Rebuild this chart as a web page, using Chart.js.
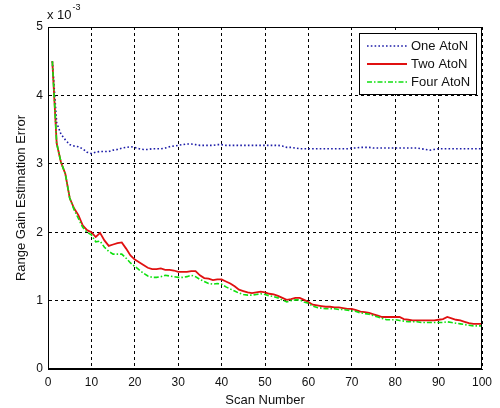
<!DOCTYPE html>
<html lang="en">
<head>
  <meta charset="UTF-8" />
  <title>Range Gain Estimation Error</title>
  <script src="https://cdn.jsdelivr.net/npm/chart.js"></script>
  <style>
    html, body { margin: 0; padding: 0; background: #fff; }
    #wrap { width: 500px; height: 408px; }
  </style>
</head>
<body>
  <div id="wrap"><canvas id="chartErro"></canvas></div>

  <script>
    // scan numbers (x)
    const scans = [
      1, 2, 3, 4, 5, 6, 7, 8, 9, 10, 11, 12, 13, 14, 15, 16, 17, 18, 19, 20,
      21, 22, 23, 24, 25, 26, 27, 28, 29, 30, 31, 32, 33, 34, 35, 36, 37, 38, 39, 40,
      41, 42, 43, 44, 45, 46, 47, 48, 49, 50, 51, 52, 53, 54, 55, 56, 57, 58, 59, 60,
      61, 62, 63, 64, 65, 66, 67, 68, 69, 70, 71, 72, 73, 74, 75, 76, 77, 78, 79, 80,
      81, 82, 83, 84, 85, 86, 87, 88, 89, 90, 91, 92, 93, 94, 95, 96, 97, 98, 99, 100
    ];

    // error values, in units of 1e-3
    const oneAton = [
      4.50, 3.60, 3.43, 3.35, 3.28, 3.26, 3.25, 3.22, 3.17, 3.15,
      3.17, 3.18, 3.18, 3.18, 3.20, 3.21, 3.23, 3.24, 3.25, 3.24,
      3.22, 3.21, 3.21, 3.22, 3.22, 3.22, 3.23, 3.25, 3.26, 3.27,
      3.28, 3.29, 3.29, 3.28, 3.27, 3.27, 3.27, 3.27, 3.28, 3.28,
      3.27, 3.27, 3.27, 3.27, 3.27, 3.27, 3.27, 3.27, 3.27, 3.27,
      3.27, 3.27, 3.27, 3.26, 3.24, 3.24, 3.23, 3.22, 3.22, 3.22,
      3.22, 3.22, 3.22, 3.22, 3.22, 3.22, 3.22, 3.22, 3.22, 3.23,
      3.23, 3.24, 3.24, 3.24, 3.23, 3.23, 3.23, 3.23, 3.23, 3.23,
      3.23, 3.23, 3.23, 3.23, 3.23, 3.22, 3.21, 3.20, 3.21, 3.22,
      3.22, 3.22, 3.22, 3.22, 3.22, 3.22, 3.22, 3.22, 3.22, 3.22
    ];
    const twoAton = [
      4.50, 3.30, 3.02, 2.85, 2.50, 2.35, 2.25, 2.10, 2.03, 2.00,
      1.93, 1.99, 1.88, 1.80, 1.82, 1.84, 1.85, 1.76, 1.66, 1.60,
      1.56, 1.52, 1.48, 1.46, 1.46, 1.47, 1.45, 1.45, 1.44, 1.42,
      1.42, 1.42, 1.43, 1.43, 1.37, 1.33, 1.32, 1.30, 1.31, 1.31,
      1.28, 1.25, 1.21, 1.16, 1.14, 1.12, 1.11, 1.12, 1.13, 1.12,
      1.10, 1.09, 1.07, 1.04, 1.01, 1.02, 1.04, 1.04, 1.01, 0.98,
      0.94, 0.93, 0.92, 0.91, 0.91, 0.90, 0.90, 0.89, 0.88, 0.88,
      0.86, 0.84, 0.83, 0.82, 0.80, 0.78, 0.76, 0.76, 0.76, 0.76,
      0.76, 0.73, 0.72, 0.71, 0.71, 0.71, 0.71, 0.71, 0.71, 0.72,
      0.73, 0.76, 0.74, 0.72, 0.71, 0.69, 0.67, 0.66, 0.66, 0.66
    ];
    const fourAton = [
      4.50, 3.30, 3.02, 2.85, 2.50, 2.33, 2.20, 2.07, 2.00, 1.96,
      1.86, 1.87, 1.78, 1.72, 1.68, 1.68, 1.68, 1.62, 1.55, 1.50,
      1.45, 1.40, 1.36, 1.34, 1.34, 1.35, 1.37, 1.36, 1.35, 1.34,
      1.34, 1.35, 1.37, 1.35, 1.31, 1.28, 1.25, 1.24, 1.25, 1.24,
      1.20, 1.17, 1.14, 1.11, 1.09, 1.08, 1.08, 1.09, 1.10, 1.09,
      1.07, 1.06, 1.04, 1.01, 0.98, 1.00, 1.01, 1.01, 0.98, 0.96,
      0.92, 0.90, 0.89, 0.88, 0.88, 0.88, 0.87, 0.87, 0.86, 0.85,
      0.84, 0.82, 0.81, 0.80, 0.78, 0.76, 0.74, 0.72, 0.72, 0.72,
      0.71, 0.70, 0.69, 0.69, 0.69, 0.68, 0.68, 0.68, 0.68, 0.68,
      0.68, 0.69, 0.68, 0.67, 0.66, 0.65, 0.64, 0.63, 0.63, 0.63
    ];

    const xTicks = [0, 10, 20, 30, 40, 50, 60, 70, 80, 90, 100];
    const yTicks = [0, 1, 2, 3, 4, 5];

    const fonte = '"Liberation Sans", Arial, sans-serif';

    function pontos(vals) {
      return scans.map((s, i) => ({ x: s, y: vals[i] }));
    }

    // box round the plot, the x 10^-3 note and the legend inside the axes
    const moldura = {
      id: 'moldura',
      afterDraw(chart) {
        const { ctx, chartArea: a } = chart;
        ctx.save();
        ctx.setLineDash([]);
        ctx.strokeStyle = '#000';
        ctx.lineWidth = 1;
        ctx.strokeRect(Math.round(a.left) + 0.5, Math.round(a.top) + 0.5,
          Math.round(a.right - a.left) - 1, Math.round(a.bottom - a.top) - 1);

        ctx.fillStyle = '#111';
        ctx.textBaseline = 'middle';
        ctx.textAlign = 'left';
        ctx.font = '13px ' + fonte;
        ctx.fillText('x 10', a.left - 1, 15);
        const w = ctx.measureText('x 10').width;
        ctx.font = '9px ' + fonte;
        ctx.fillText('-3', a.left - 1 + w + 1, 8);

        // legend
        const bx = a.right - 123, by = a.top + 6, bw = 117, bh = 61;
        ctx.fillStyle = '#fff';
        ctx.fillRect(bx, by, bw, bh);
        ctx.strokeStyle = '#000';
        ctx.strokeRect(bx + 0.5, by + 0.5, bw, bh);
        ctx.font = '13px ' + fonte;
        chart.data.datasets.forEach((ds, i) => {
          const y = by + 13 + i * 18;
          ctx.beginPath();
          ctx.strokeStyle = ds.borderColor;
          ctx.lineWidth = ds.borderWidth;
          ctx.setLineDash(ds.borderDash || []);
          ctx.moveTo(bx + 8, y);
          ctx.lineTo(bx + 48, y);
          ctx.stroke();
          ctx.setLineDash([]);
          ctx.fillStyle = '#111';
          ctx.fillText(ds.label, bx + 52, y);
        });
        ctx.restore();
      }
    };

    new Chart(document.getElementById('chartErro'), {
      type: 'line',
      data: {
        datasets: [
          {
            label: 'One AtoN',
            data: pontos(oneAton),
            borderColor: '#1c1ca8',
            borderWidth: 1.6,
            borderDash: [1.6, 2.2],
            order: 2
          },
          {
            label: 'Two AtoN',
            data: pontos(twoAton),
            borderColor: '#e01010',
            borderWidth: 1.8,
            order: 1
          },
          {
            label: 'Four AtoN',
            data: pontos(fourAton),
            borderColor: '#10e010',
            borderWidth: 1.6,
            borderDash: [5, 2, 1.5, 2],
            order: 0
          }
        ]
      },
      options: {
        responsive: true,
        maintainAspectRatio: false,
        animation: false,
        layout: { padding: { left: 0, right: 18, top: 27, bottom: 0 } },
        elements: { point: { radius: 0 }, line: { tension: 0 } },
        plugins: { legend: { display: false }, tooltip: { enabled: false } },
        scales: {
          x: {
            type: 'linear',
            min: 0,
            max: 100,
            afterFit(scale) { scale.height = 39; },
            afterBuildTicks(scale) { scale.ticks = xTicks.map(v => ({ value: v })); },
            grid: { color: '#000', lineWidth: 1, drawTicks: false },
            border: { display: true, color: '#000', dash: [3, 3] },
            ticks: { color: '#111', font: { family: fonte, size: 12 }, padding: 6, maxRotation: 0 },
            title: { display: true, text: 'Scan Number', color: '#111', font: { family: fonte, size: 13 }, padding: { top: 0, bottom: 0 } }
          },
          y: {
            min: 0,
            max: 5,
            afterFit(scale) { scale.width = 48; },
            afterBuildTicks(scale) { scale.ticks = yTicks.map(v => ({ value: v })); },
            grid: { color: '#000', lineWidth: 1, drawTicks: false },
            border: { display: true, color: '#000', dash: [3, 3] },
            ticks: { color: '#111', font: { family: fonte, size: 12 }, padding: 5 },
            title: { display: true, text: 'Range Gain Estimation Error', color: '#111', font: { family: fonte, size: 13 }, padding: { top: 14, bottom: 0 } }
          }
        }
      },
      plugins: [moldura]
    });
  </script>
</body>
</html>
